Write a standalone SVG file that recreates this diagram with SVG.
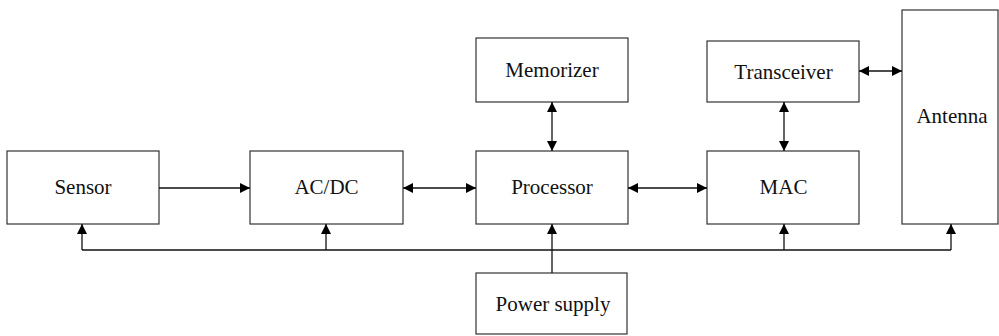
<svg xmlns="http://www.w3.org/2000/svg" width="999" height="336" viewBox="0 0 999 336">
  <style>
    .box { fill: #ffffff; stroke: #333333; stroke-width: 1.2; }
    .lbl { font-family: "Liberation Serif", "Times New Roman", serif; font-size: 21px; fill: #111111; text-anchor: middle; }
    .wire { fill: none; stroke: #111111; stroke-width: 1.3; }
  </style>
  <defs>
    <marker id="head" viewBox="0 0 10 10" refX="10" refY="5" markerWidth="10" markerHeight="10" markerUnits="userSpaceOnUse" orient="auto-start-reverse">
      <path d="M0,0 L10,5 L0,10 z" fill="#000000"/>
    </marker>
  </defs>
  <rect width="999" height="336" fill="#ffffff"/>

  <g id="sensor">
    <rect class="box" x="7" y="151" width="152" height="73"/>
    <text class="lbl" x="83" y="194">Sensor</text>
  </g>
  <g id="acdc">
    <rect class="box" x="250" y="151" width="153" height="73"/>
    <text class="lbl" x="326.5" y="194">AC/DC</text>
  </g>
  <g id="memorizer">
    <rect class="box" x="476" y="38" width="152" height="64"/>
    <text class="lbl" x="552" y="77">Memorizer</text>
  </g>
  <g id="processor">
    <rect class="box" x="476" y="151" width="152" height="73"/>
    <text class="lbl" x="552" y="194">Processor</text>
  </g>
  <g id="transceiver">
    <rect class="box" x="707" y="41" width="152" height="61"/>
    <text class="lbl" x="783.5" y="79">Transceiver</text>
  </g>
  <g id="mac">
    <rect class="box" x="707" y="151" width="152" height="73"/>
    <text class="lbl" x="783.5" y="194">MAC</text>
  </g>
  <g id="antenna">
    <rect class="box" x="902" y="10" width="96" height="214"/>
    <text class="lbl" x="952" y="123">Antenna</text>
  </g>
  <g id="power-supply">
    <rect class="box" x="476" y="273" width="151" height="61"/>
    <text class="lbl" x="553" y="311">Power supply</text>
  </g>

  <g id="connectors">
    <!-- signal path -->
    <line class="wire" x1="159" y1="188" x2="250" y2="188" marker-end="url(#head)"/>
    <line class="wire" x1="403" y1="188" x2="476" y2="188" marker-start="url(#head)" marker-end="url(#head)"/>
    <line class="wire" x1="628" y1="188" x2="707" y2="188" marker-start="url(#head)" marker-end="url(#head)"/>
    <line class="wire" x1="552" y1="102" x2="552" y2="151" marker-start="url(#head)" marker-end="url(#head)"/>
    <line class="wire" x1="784" y1="102" x2="784" y2="151" marker-start="url(#head)" marker-end="url(#head)"/>
    <line class="wire" x1="859" y1="71" x2="902" y2="71" marker-start="url(#head)" marker-end="url(#head)"/>
    <!-- power bus -->
    <line class="wire" x1="82" y1="250" x2="951" y2="250"/>
    <line class="wire" x1="82" y1="250" x2="82" y2="224" marker-end="url(#head)"/>
    <line class="wire" x1="326" y1="250" x2="326" y2="224" marker-end="url(#head)"/>
    <line class="wire" x1="552" y1="273" x2="552" y2="224" marker-end="url(#head)"/>
    <line class="wire" x1="784" y1="250" x2="784" y2="224" marker-end="url(#head)"/>
    <line class="wire" x1="951" y1="250" x2="951" y2="224" marker-end="url(#head)"/>
  </g>
</svg>
